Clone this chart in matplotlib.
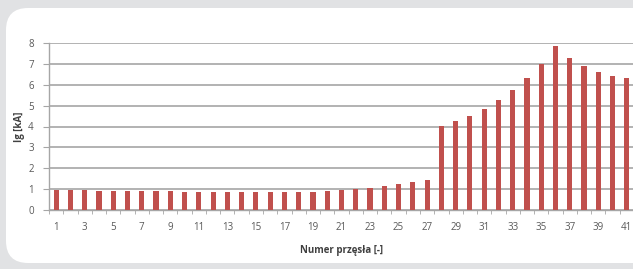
import numpy as np
import matplotlib; matplotlib.use("Agg")
import matplotlib.pyplot as plt
from matplotlib.patches import FancyBboxPatch

# span number and short-circuit current Ig [kA]
span = list(range(1, 42))
ig = [0.98, 0.96, 0.94, 0.92, 0.91, 0.90, 0.89, 0.89, 0.89, 0.88,
      0.88, 0.88, 0.88, 0.88, 0.88, 0.88, 0.88, 0.88, 0.88, 0.91,
      0.94, 0.99, 1.04, 1.13, 1.23, 1.32, 1.43, 4.03, 4.24, 4.51,
      4.84, 5.26, 5.74, 6.33, 7.00, 7.86, 7.28, 6.90, 6.60, 6.41, 6.30]
ytick_vals = list(range(0, 9))
xtick_vals = list(range(1, 42, 2))

W, H = 633, 269
fig = plt.figure(figsize=(W / 100, H / 100), dpi=100)
fig.patch.set_facecolor("#e1e2e4")
card = FancyBboxPatch((6 / W, 1 - 263 / H), 700 / W, 255 / H,
                      boxstyle="round,pad=0,rounding_size=0.035",
                      transform=fig.transFigure, facecolor="white", edgecolor="none",
                      mutation_aspect=W / H, zorder=-5)
fig.add_artist(card)

ax = fig.add_axes([49 / W, 1 - 210 / H, (634 - 49) / W, (210 - 43) / H])
ax.set_zorder(2)
ax.set_facecolor("none")
ax.bar(span, ig, width=0.36, color="#c0504d", zorder=3)
ax.set_xlim(0.5, 41.5)
ax.set_ylim(0, 8)
ax.set_yticks(ytick_vals)
ax.set_xticks(xtick_vals)
ax.set_xticks(np.arange(0.5, 42, 1), minor=True)
ax.yaxis.grid(True, color="#9e9e9e", lw=1.1, zorder=0)
for s in ["top", "right"]:
    ax.spines[s].set_visible(False)
for s in ["left", "bottom"]:
    ax.spines[s].set_color("#a6a6a6")
    ax.spines[s].set_linewidth(1.0)
ax.tick_params(axis="y", length=4, color="#a6a6a6", labelsize=7, labelcolor="#595959", pad=7)
ax.tick_params(axis="x", which="major", length=0, labelsize=7, labelcolor="#595959", pad=9)
ax.tick_params(axis="x", which="minor", length=3, color="#a6a6a6")
for t in ax.get_xticklabels() + ax.get_yticklabels():
    t.set_fontfamily("Open Sans")
ax.set_ylabel("Ig [kA]", fontsize=7, fontweight="bold", color="#404040", family="Open Sans", labelpad=2)
ax.set_xlabel("Numer przęsła [-]", fontsize=7, fontweight="bold", color="#404040", family="Open Sans", labelpad=8)

fig.savefig("out.png", dpi=100, facecolor=fig.get_facecolor())
